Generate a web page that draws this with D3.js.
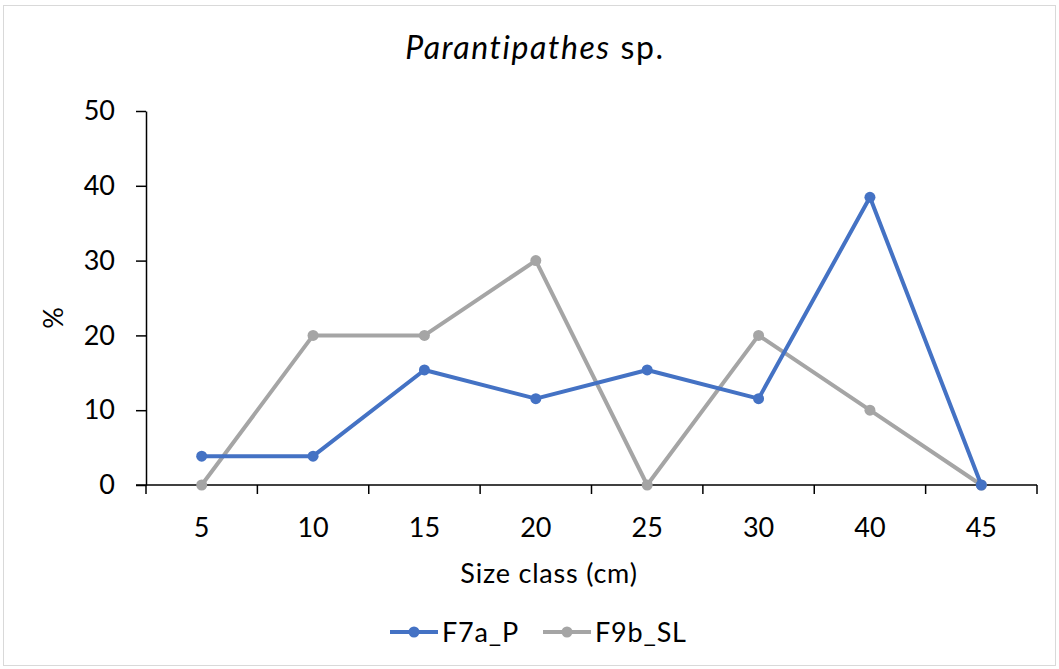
<!DOCTYPE html>
<html>
<head>
<meta charset="utf-8">
<script src="https://cdn.jsdelivr.net/npm/d3@7"></script>
<style>
  body { margin: 0; background: #fff; }
  text { font-family: Lato, "Open Sans", sans-serif; fill: #000; }
</style>
</head>
<body>
<svg id="drawing_region"></svg>
<script>
// data
const sizeClasses = ['5', '10', '15', '20', '25', '30', '40', '45'];
const f7aP = [3.85, 3.85, 15.38, 11.54, 15.38, 11.54, 38.46, 0];
const f9bSL = [0, 20, 20, 30, 0, 20, 10, 0];
const yTicks = [0, 10, 20, 30, 40, 50];
const seriesNames = ['F7a_P', 'F9b_SL'];
const seriesColors = ['#4472C4', '#A5A5A5'];

var width = 1059;
var height = 669;
var margin = {top: 111, right: 22, bottom: 184, left: 146};
var fontSize = 27;

var svg = d3.select('#drawing_region')
    .attr('width', width)
    .attr('height', height);

// outer chart border
svg.append('rect')
    .attr('x', 3.5).attr('y', 5.5)
    .attr('width', width - 7).attr('height', height - 9)
    .attr('fill', '#fff')
    .attr('stroke', '#d9d9d9');

const inner_width = width - margin.left - margin.right;
const inner_height = height - margin.top - margin.bottom;

const chart = svg.append('g')
    .attr('transform', `translate(${margin.left}, ${margin.top})`);

const xscale = d3.scaleBand()
    .domain(sizeClasses)
    .range([0, inner_width]);

const yscale = d3.scaleLinear()
    .domain([0, 50])
    .range([inner_height, 0]);

// x axis: ticks between categories
const xaxis_group = chart.append('g')
    .attr('transform', `translate(0, ${inner_height})`);
xaxis_group.append('line')
    .attr('x1', -10).attr('x2', inner_width)
    .attr('stroke', '#000').attr('stroke-width', 1.5);
xaxis_group.selectAll('.xtick')
    .data(d3.range(sizeClasses.length + 1))
    .enter().append('line')
    .attr('x1', i => i * xscale.step())
    .attr('x2', i => i * xscale.step())
    .attr('y1', 0).attr('y2', 9)
    .attr('stroke', '#000').attr('stroke-width', 1.5);
xaxis_group.selectAll('.xlabel')
    .data(sizeClasses)
    .enter().append('text')
    .attr('x', d => xscale(d) + xscale.bandwidth() / 2)
    .attr('y', 52)
    .attr('text-anchor', 'middle')
    .attr('font-size', fontSize)
    .text(d => d);

// y axis
const yaxis = d3.axisLeft(yscale)
    .tickValues(yTicks)
    .tickSize(10)
    .tickSizeOuter(0)
    .tickPadding(21);
const yaxis_group = chart.append('g').call(yaxis);
yaxis_group.select('.domain').attr('stroke-width', 1.5);
yaxis_group.selectAll('.tick line').attr('stroke-width', 1.5);
yaxis_group.selectAll('.tick text')
    .attr('font-size', fontSize)
    .attr('font-family', 'Lato, "Open Sans", sans-serif');

// lines + markers
const line = d3.line()
    .x((d, i) => xscale(sizeClasses[i]) + xscale.bandwidth() / 2)
    .y(d => yscale(d));

[f9bSL, f7aP].forEach((vals, k) => {
    const color = k === 0 ? seriesColors[1] : seriesColors[0];
    chart.append('path')
        .attr('d', line(vals))
        .attr('fill', 'none')
        .attr('stroke', color)
        .attr('stroke-width', 4)
        .attr('stroke-linejoin', 'round');
    chart.selectAll(null)
        .data(vals)
        .enter().append('circle')
        .attr('cx', (d, i) => xscale(sizeClasses[i]) + xscale.bandwidth() / 2)
        .attr('cy', d => yscale(d))
        .attr('r', 5.5)
        .attr('fill', color);
});

// title
const title = svg.append('text')
    .attr('x', 535).attr('y', 59)
    .attr('text-anchor', 'middle')
    .attr('font-size', 32)
    .attr('letter-spacing', 1.6);
title.append('tspan').attr('font-style', 'italic').text('Parantipathes');
title.append('tspan').text(' sp.');

// axis titles
svg.append('text')
    .attr('x', 549).attr('y', 583)
    .attr('text-anchor', 'middle')
    .attr('font-size', fontSize)
    .attr('letter-spacing', 0.8)
    .text('Size class (cm)');
svg.append('text')
    .attr('transform', 'translate(63, 318) rotate(-90)')
    .attr('text-anchor', 'middle')
    .attr('font-size', fontSize)
    .text('%');

// legend
const legend = svg.append('g').attr('transform', 'translate(390, 632)');
const legendX = [0, 153];
seriesNames.forEach((name, i) => {
    const g = legend.append('g').attr('transform', `translate(${legendX[i]}, 0)`);
    g.append('line')
        .attr('x1', 0).attr('x2', 48)
        .attr('stroke', seriesColors[i]).attr('stroke-width', 4);
    g.append('circle').attr('cx', 24).attr('r', 5.5).attr('fill', seriesColors[i]);
    g.append('text')
        .attr('x', 52).attr('y', 10)
        .attr('font-size', fontSize)
        .attr('letter-spacing', 0.8)
        .text(name);
});
</script>
</body>
</html>
